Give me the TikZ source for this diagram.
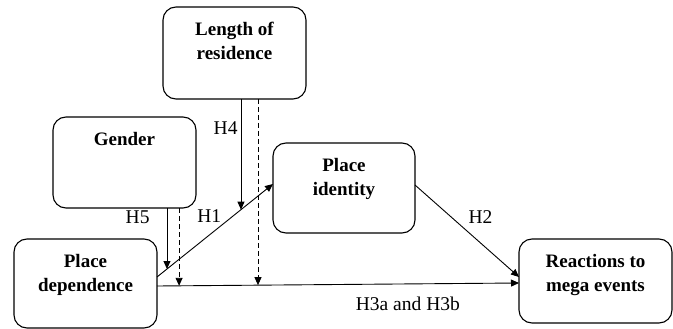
\documentclass[tikz,border=0pt]{standalone}
\usepackage{fontspec}
\setmainfont{Liberation Serif}
\usetikzlibrary{arrows.meta, positioning}

\begin{document}
\begin{tikzpicture}[x=1pt, y=-1pt,
    box/.style={draw=black, line width=1.1pt, rounded corners=13pt, inner sep=0pt, outer sep=0pt},
    boxtext/.style={font=\fontsize{19}{24}\selectfont\bfseries, align=center, inner sep=0pt},
    hlabel/.style={font=\fontsize{19.5}{24}\selectfont, inner sep=0pt},
    arr/.style={black, line width=0.9pt, -{Triangle[length=8pt, width=7pt]}},
    darr/.style={arr, dash pattern=on 5pt off 3pt}]
    \useasboundingbox (0,0) rectangle (673,329);
    % boxes
    \node[box, minimum width=143pt, minimum height=92pt] (len) at (234.5,53) {};
    \node[boxtext, below=15pt of len.north] (lentext) {Length of\\residence};
    \node[box, minimum width=143pt, minimum height=91pt] (gen) at (124.5,162.5) {};
    \node[boxtext, below=15pt of gen.north] (gentext) {Gender};
    \node[box, minimum width=143pt, minimum height=89pt] (pd) at (85.5,283.5) {};
    \node[boxtext, below=15pt of pd.north] (pdtext) {Place\\dependence};
    \node[box, minimum width=142pt, minimum height=90pt] (pi) at (344,188) {};
    \node[boxtext, below=15pt of pi.north] (pitext) {Place\\identity};
    \node[box, minimum width=153pt, minimum height=84pt] (rme) at (595.5,281) {};
    \node[boxtext, below=15pt of rme.north] (rmetext) {Reactions to\\mega events};
    %
    % main paths
    \draw[arr] ([yshift=6.5pt]pd.east) -- coordinate[pos=0.086] (h5end) coordinate[pos=0.724] (h4end)
        node[hlabel, pos=0.45, above=12pt] (h1lab) {H1} ([yshift=4pt]pi.west);
    \draw[arr] ([yshift=-2.5pt]pd.east) -- coordinate[pos=0.061] (d5end) coordinate[pos=0.279] (d4end)
        node[hlabel, pos=0.693, below=13pt] (h3lab) {H3a and H3b} ([yshift=-2pt]rme.west);
    \draw[arr] ([yshift=3pt]pi.east) -- node[hlabel, pos=0.47, above right=6pt] (h2lab) {H2} ([yshift=4pt]rme.west);
    %
    % moderators
    \draw[arr] (h4end |- len.south) -- node[hlabel, pos=0.26, left=3pt] (h4lab) {H4} (h4end);
    \draw[darr] (d4end |- len.south) -- (d4end);
    \draw[arr] (h5end |- gen.south) -- node[hlabel, pos=0.15, left=17pt] (h5lab) {H5} (h5end);
    \draw[darr] (d5end |- gen.south) -- (d5end);
\end{tikzpicture}
\end{document}
